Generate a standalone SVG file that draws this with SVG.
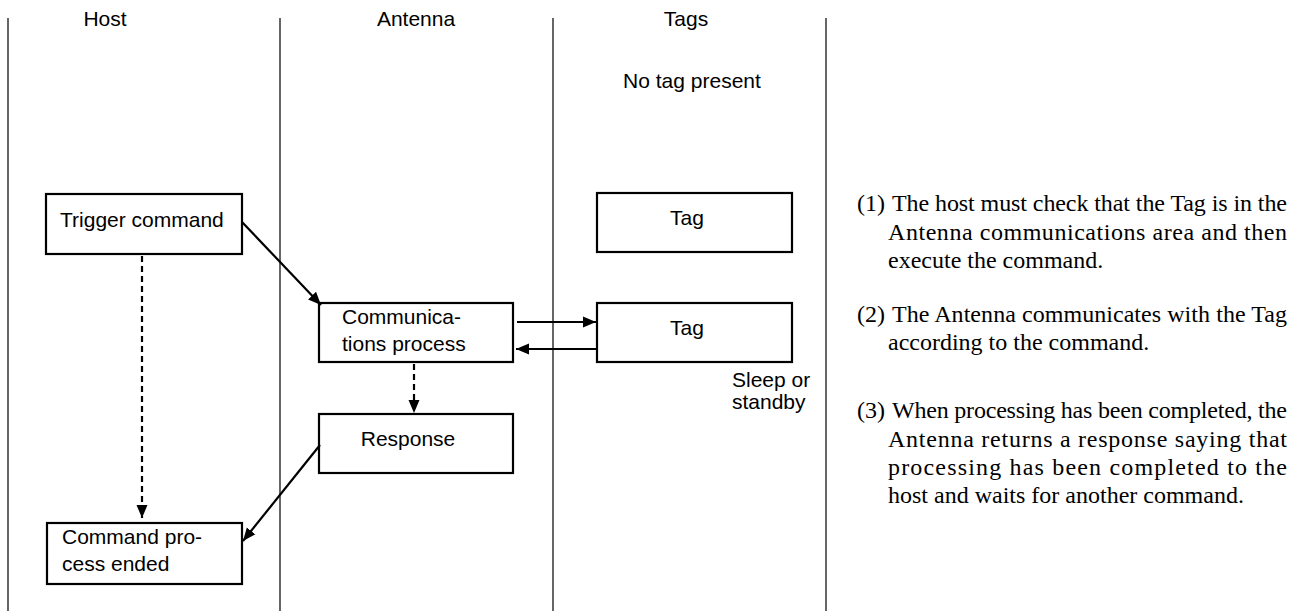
<svg xmlns="http://www.w3.org/2000/svg" width="1299" height="611" viewBox="0 0 1299 611">
<defs>
<marker id="ah" markerUnits="userSpaceOnUse" markerWidth="13" markerHeight="13" viewBox="0 0 13 13" refX="13" refY="6.5" orient="auto">
<path d="M0,1 L13,6.5 L0,12 Z" fill="#000"/>
</marker>
</defs>
<style>
.lane{stroke:#000;stroke-width:1.2;fill:none}
.box{fill:#fff;stroke:#000;stroke-width:2.2}
.s{font-family:"Liberation Sans",Arial,sans-serif;font-size:21px;fill:#000}
.c{text-anchor:middle}
.r{font-family:"Liberation Serif","Times New Roman",serif;font-size:24px;fill:#000}
.ln{stroke:#000;stroke-width:2.2;fill:none}
.dash{stroke-dasharray:6 4}
</style>
<rect width="1299" height="611" fill="#fff"/>
<g id="lanes">
<line class="lane" x1="8" y1="18" x2="8" y2="611"/>
<line class="lane" x1="280" y1="18" x2="280" y2="611"/>
<line class="lane" x1="553" y1="18" x2="553" y2="611"/>
<line class="lane" x1="826" y1="18" x2="826" y2="611"/>
<text class="s c" x="105" y="26">Host</text>
<text class="s c" x="416" y="26">Antenna</text>
<text class="s c" x="686" y="26">Tags</text>
<text class="s c" x="692" y="88">No tag present</text>
<text class="s" x="732" y="387">Sleep or</text>
<text class="s" x="732" y="409">standby</text>
</g>
<g id="trigger">
<rect class="box" x="46" y="194" width="196" height="60"/>
<text class="s" x="60" y="227">Trigger command</text>
</g>
<g id="comm">
<rect class="box" x="319" y="303" width="194" height="59"/>
<text class="s" x="342" y="324">Communica-</text>
<text class="s" x="342" y="351">tions process</text>
</g>
<g id="response">
<rect class="box" x="319" y="414" width="194" height="59"/>
<text class="s c" x="408" y="446">Response</text>
</g>
<g id="ended">
<rect class="box" x="47" y="523" width="195" height="61"/>
<text class="s" x="62" y="544">Command pro-</text>
<text class="s" x="62" y="571">cess ended</text>
</g>
<g id="tag1">
<rect class="box" x="597" y="193" width="195" height="59"/>
<text class="s c" x="687" y="225">Tag</text>
</g>
<g id="tag2">
<rect class="box" x="597" y="303" width="195" height="59"/>
<text class="s c" x="687" y="335">Tag</text>
</g>
<g id="connectors">
<line class="ln" x1="242" y1="222" x2="321" y2="305" marker-end="url(#ah)"/>
<line class="ln dash" x1="142" y1="256" x2="142" y2="518" marker-end="url(#ah)"/>
<line class="ln dash" x1="414" y1="364" x2="414" y2="413" marker-end="url(#ah)"/>
<line class="ln" x1="517" y1="322" x2="596" y2="322" marker-end="url(#ah)"/>
<line class="ln" x1="596" y1="349" x2="516" y2="349" marker-end="url(#ah)"/>
<line class="ln" x1="320" y1="445" x2="243" y2="541" marker-end="url(#ah)"/>
</g>
<g id="notes">
<text class="r" x="857" y="211">(1)</text>
<text class="r" x="892" y="211" textLength="395" lengthAdjust="spacing">The host must check that the Tag is in the</text>
<text class="r" x="888" y="240" textLength="399" lengthAdjust="spacing">Antenna communications area and then</text>
<text class="r" x="888" y="268">execute the command.</text>
<text class="r" x="857" y="322">(2)</text>
<text class="r" x="892" y="322" textLength="395" lengthAdjust="spacing">The Antenna communicates with the Tag</text>
<text class="r" x="888" y="350">according to the command.</text>
<text class="r" x="857" y="418">(3)</text>
<text class="r" x="892" y="418" textLength="395" lengthAdjust="spacing">When processing has been completed, the</text>
<text class="r" x="888" y="447" textLength="399" lengthAdjust="spacing">Antenna returns a response saying that</text>
<text class="r" x="888" y="475" textLength="399" lengthAdjust="spacing">processing has been completed to the</text>
<text class="r" x="888" y="503">host and waits for another command.</text>
</g>
</svg>
